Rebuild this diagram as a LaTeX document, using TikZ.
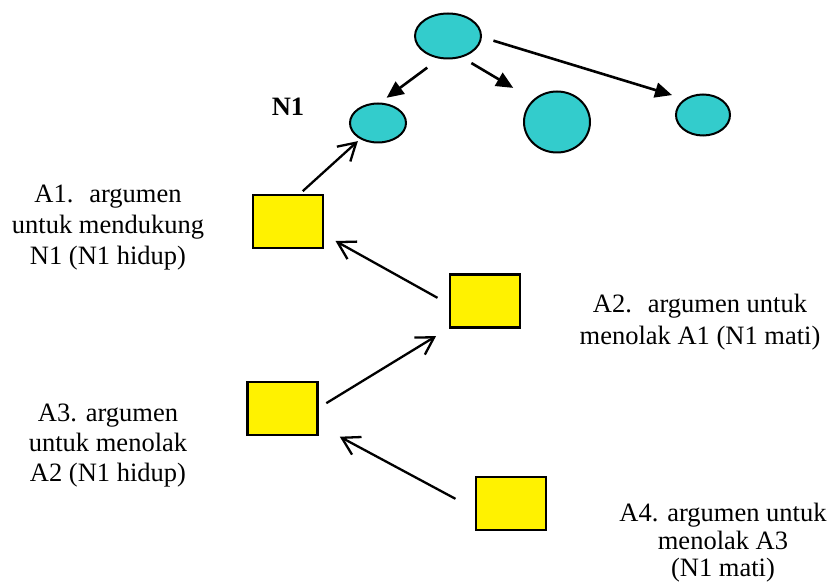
\documentclass[tikz,border=0pt]{standalone}
\usepackage{fontspec}
\setmainfont{Liberation Serif}
\usetikzlibrary{shapes.geometric, arrows.meta}
\definecolor{claimcyan}{HTML}{33CCCC}

\begin{document}
\begin{tikzpicture}[x=1pt, y=-1pt,
  claim/.style={ellipse, draw, line width=2pt, fill=claimcyan, inner sep=0pt},
  argbox/.style={rectangle, draw, line width=2.3pt, fill=yellow, minimum width=70pt, minimum height=53pt, inner sep=0pt},
  tree/.style={-{Triangle[length=17pt, width=15pt]}, line width=2.6pt},
  attack/.style={-{Straight Barb[length=17pt, width=20pt]}, line width=2.3pt},
  arglabel/.style={align=center, font=\fontsize{26.5}{#1}\selectfont}]

% An argument tree hanging under claim N1.

\useasboundingbox (0,0) rectangle (828,585);

\node[claim, minimum width=66pt, minimum height=45pt] (top) at (448,36) {};
\node[claim, minimum width=56pt, minimum height=39pt] (n1) at (378,123) {};
\node[claim, minimum width=66pt, minimum height=61pt] (mid) at (557,122) {};
\node[claim, minimum width=54pt, minimum height=41pt] (right) at (703,115) {};

\node[argbox] (a1) at (288,221.5) {};
\node[argbox] (a2) at (485,301) {};
\node[argbox] (a3) at (282.5,408.5) {};
\node[argbox] (a4) at (511,503.5) {};

\node[font=\fontsize{26.5}{30}\selectfont\bfseries] (n1label) at (288,107) {N1};
\node[arglabel=31] (t1) at (108,228) {A1.\hspace{0.6em}argumen\\untuk mendukung\\N1 (N1 hidup)};
\node[arglabel=32] (t2) at (700,322) {A2.\hspace{0.6em}argumen untuk\\menolak A1 (N1 mati)};
\node[arglabel=30] (t3) at (108,446) {A3. argumen\\untuk menolak\\A2 (N1 hidup)};
\node[arglabel=27.5] (t4) at (723,543) {A4. argumen untuk\\menolak A3\\(N1 mati)};

\draw[tree, shorten <=15pt, shorten >=8pt] (top.249) -- (n1.84);
\draw[tree, shorten <=11pt, shorten >=23pt] (top.303) -- (mid.137);
\draw[tree, shorten <=12pt, shorten >=13pt] (top.358) -- (right.139);

\draw[attack, shorten <=4pt, shorten >=3pt] (a1.67) -- (n1.222);
\draw[attack, shorten <=13pt, shorten >=13pt] (a2.185) -- (a1.340);
\draw[attack, shorten <=9pt, shorten >=15pt] (a3.1) -- (a2.217);
\draw[attack, shorten <=22pt, shorten >=24pt] (a4.189) -- (a3.335);

\end{tikzpicture}
\end{document}
